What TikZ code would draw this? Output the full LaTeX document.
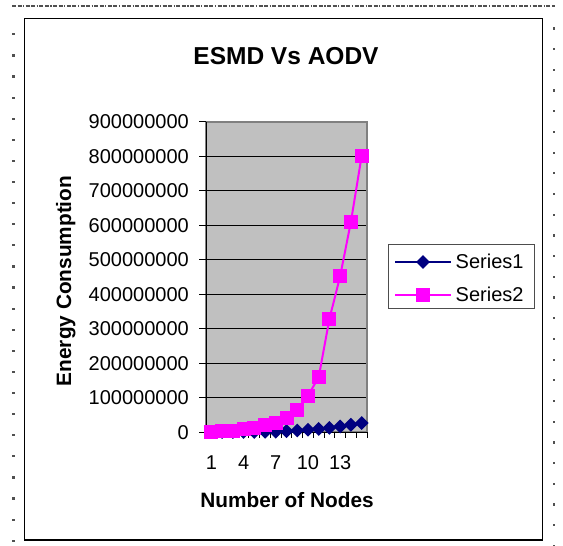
\documentclass[tikz,border=0pt]{standalone}
\usepackage{fontspec}
\setmainfont{Liberation Sans}
\usetikzlibrary{shapes.geometric}
\definecolor{navyc}{RGB}{0,0,128}
\definecolor{magc}{RGB}{255,0,255}
\definecolor{plotfill}{RGB}{192,192,192}
\definecolor{plotedge}{RGB}{128,128,128}
\definecolor{dotc}{RGB}{80,80,80}
\tikzset{
  ticklab/.style={font=\fontsize{20}{24}\selectfont, inner sep=0pt},
  axtitle/.style={font=\fontsize{20.8}{24}\selectfont\bfseries, inner sep=0pt},
  bline/.style={draw=navyc, line width=2pt},
  pline/.style={draw=magc, line width=2pt},
  bmark/.style={diamond, fill=navyc, minimum width=14pt, minimum height=14pt, inner sep=0pt, shape aspect=1},
  pmark/.style={rectangle, fill=magc, minimum size=14pt, inner sep=0pt},
  gridl/.style={draw=black, line width=0.8pt},
}
\def\bluedata{1/0,2/0,3/0,4/0,5/0,6/0.5,7/1,8/2.5,9/4.5,10/6.5,11/9,12/12,13/16,14/21,15/26}
\def\pinkdata{1/1,2/2,3/4,4/8,5/12,6/20,7/25,8/40,9/64,10/105,11/159,12/328,13/452,14/609,15/800}
\begin{document}
\begin{tikzpicture}[x=1pt,y=-1pt]
\useasboundingbox (0,0) rectangle (563,546);
\fill[white] (0,0) rectangle (563,546);
% outer dotted frame
\draw[dotc, line width=1.2pt, dash pattern=on 4pt off 1.5pt on 4pt off 1.5pt on 1.2pt off 1.5pt] (12,6) -- (555,6);
\foreach \i in {0,...,24} {
  \fill[dotc] (12.3,{33.2+\i*21.1}) rectangle +(2.2,2.2);
}
\foreach \i in {0,...,25} {
  \fill[dotc] (553,{27.3+\i*20.7}) rectangle +(2.2,2.2);
}
% chart frame
\draw[line width=1.5pt] (24.5,18.5) rectangle (542.3,540);
% title
\node[font=\fontsize{24.5}{28}\selectfont\bfseries, inner sep=0pt, anchor=base] (title) at (286,64) {ESMD Vs AODV};
% plot area
\fill[plotfill] (206,121.5) rectangle (367,432);
\foreach \v in {1,...,8} {
  \draw[gridl] (206,{432-\v*34.5}) -- (367,{432-\v*34.5});
}
\draw[plotedge, line width=2pt] (206,121.5) rectangle (367,432);
% axes
\draw[black, line width=1pt] (206,121.5) -- (206,432) -- (367,432);
\foreach \v/\lab in {0/0,1/100000000,2/200000000,3/300000000,4/400000000,5/500000000,6/600000000,7/700000000,8/800000000,9/900000000} {
  \draw[black, line width=1pt] (199,{432-\v*34.5}) -- (206,{432-\v*34.5});
  \node[ticklab, anchor=base east] (yl\v) at (189,{432-\v*34.5+7.2}) {\lab};
}
\foreach \k in {0,...,15} {
  \draw[black, line width=1pt] ({206+\k*10.7333},432) -- ({206+\k*10.7333},438);
}
\foreach \k in {1,4,7,10,13} {
  \node[ticklab, anchor=base] (xl\k) at ({206+(\k-0.5)*10.7333},469) {\k};
}
% axis titles
\node[axtitle, anchor=base] (xt) at (287,507) {Number of Nodes};
\node[axtitle, rotate=90, anchor=base] (yt) at (71,281) {Energy Consumption};
% data
\foreach \k/\v in \bluedata {
  \coordinate (b\k) at ({206+(\k-0.5)*10.7333},{432-\v*0.345});
}
\foreach \k/\v in \pinkdata {
  \coordinate (p\k) at ({206+(\k-0.5)*10.7333},{432-\v*0.345});
}
\draw[bline] (b1) \foreach \k in {2,...,15} { -- (b\k) };
\foreach \k in {1,...,15} { \node[bmark] (bm\k) at (b\k) {}; }
\draw[pline] (p1) \foreach \k in {2,...,15} { -- (p\k) };
\foreach \k in {1,...,15} { \node[pmark] (pm\k) at (p\k) {}; }
% legend
\draw[plotedge!60!black, line width=1pt] (388,244) rectangle (534,308);
\coordinate (l1a) at (395,262); \coordinate (l1b) at (451,262);
\coordinate (l2a) at (395,295); \coordinate (l2b) at (451,295);
\draw[bline] (l1a) -- (l1b);
\node[bmark] (lm1) at (423,262) {};
\draw[pline] (l2a) -- (l2b);
\node[pmark] (lm2) at (423,295) {};
\node[ticklab, anchor=base west] (ls1) at (455.5,268.5) {Series1};
\node[ticklab, anchor=base west] (ls2) at (455.5,301.5) {Series2};
\end{tikzpicture}
\end{document}
